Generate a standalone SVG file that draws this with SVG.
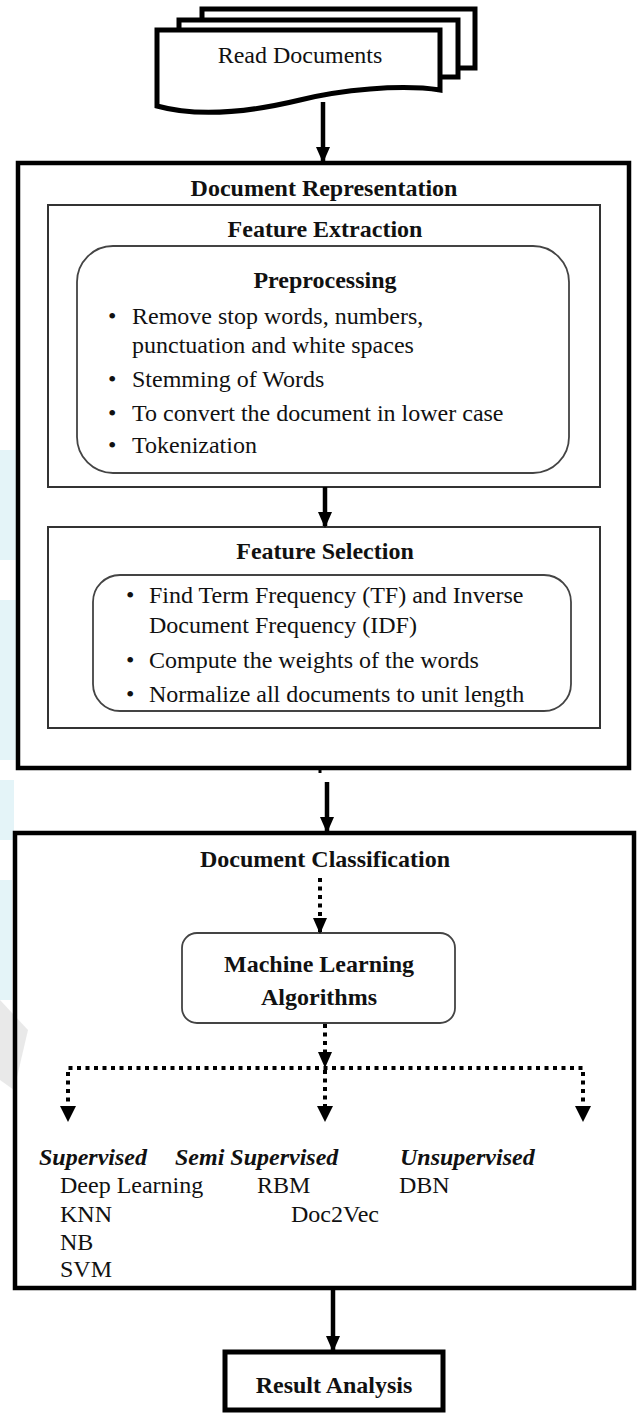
<svg xmlns="http://www.w3.org/2000/svg" width="639" height="1416" viewBox="0 0 639 1416">
  <style>
    text { font-family: "Liberation Serif", "Times New Roman", serif; font-size: 24px; fill: #111; }
    .h { font-weight: bold; text-anchor: middle; }
    .cat { font-weight: bold; font-style: italic; }
    .thick { fill: #fff; stroke: #000; stroke-width: 5; }
    .frame { fill: none; stroke: #000; stroke-width: 4.5; }
    .panel { fill: none; stroke: #333; stroke-width: 2; }
    .round { fill: #fff; stroke: #444; stroke-width: 1.8; }
    .solid { fill: none; stroke: #000; stroke-width: 4.5; }
    .dots { fill: none; stroke: #000; stroke-width: 4; stroke-dasharray: 4 4.5; }
    .tint { fill: #d9f0f5; opacity: 0.7; }
  </style>
  <defs>
    <marker id="head" viewBox="0 0 16 14" markerWidth="16" markerHeight="14" refX="14" refY="7" orient="auto" markerUnits="userSpaceOnUse">
      <path d="M0,0 L16,7 L0,14 z" fill="#000"/>
    </marker>
  </defs>
  <rect width="639" height="1416" fill="#fff"/>

  <!-- faint background tint along the left margin -->
  <g id="background">
    <rect class="tint" x="0" y="450" width="16" height="110"/>
    <rect class="tint" x="0" y="600" width="16" height="160"/>
    <rect class="tint" x="0" y="780" width="14" height="60"/>
    <rect class="tint" x="0" y="880" width="12" height="120"/>
    <path d="M0,1000 L28,1030 L14,1090 L0,1080 Z" fill="#e4e4e4" opacity="0.8"/>
  </g>

  <!-- stacked documents -->
  <g id="read-documents">
    <rect class="thick" x="202" y="9" width="273" height="59"/>
    <rect class="thick" x="179" y="20" width="279" height="57"/>
    <path class="thick" d="M157,30 H440 V90 C400,84 340,90 300,100 C250,112 200,118 157,106 Z"/>
    <text x="300" y="63" text-anchor="middle">Read Documents</text>
  </g>

  <!-- representation stage -->
  <g id="document-representation">
    <rect class="frame" x="18" y="163" width="611" height="605"/>
    <text class="h" x="324" y="196">Document Representation</text>
  </g>

  <g id="feature-extraction">
    <rect class="panel" x="48" y="205" width="552" height="282"/>
    <text class="h" x="325" y="237">Feature Extraction</text>
  </g>

  <g id="preprocessing">
    <rect class="round" x="77" y="246" width="492" height="227" rx="36" ry="36"/>
    <text class="h" x="325" y="288">Preprocessing</text>
    <text x="108" y="324">•</text><text x="132" y="324">Remove stop words, numbers,</text>
    <text x="132" y="353">punctuation and white spaces</text>
    <text x="108" y="387">•</text><text x="132" y="387">Stemming of Words</text>
    <text x="108" y="421">•</text><text x="132" y="421">To convert the document in lower case</text>
    <text x="108" y="453">•</text><text x="132" y="453">Tokenization</text>
  </g>

  <g id="feature-selection">
    <rect class="panel" x="48" y="527" width="552" height="201"/>
    <text class="h" x="325" y="559">Feature Selection</text>
  </g>

  <g id="tf-idf">
    <rect class="round" x="93" y="575" width="478" height="136" rx="27" ry="27"/>
    <text x="126" y="603">•</text><text x="149" y="603">Find Term Frequency (TF) and Inverse</text>
    <text x="149" y="633">Document Frequency (IDF)</text>
    <text x="126" y="668">•</text><text x="149" y="668">Compute the weights of the words</text>
    <text x="126" y="702">•</text><text x="149" y="702">Normalize all documents to unit length</text>
  </g>

  <!-- classification stage -->
  <g id="document-classification">
    <rect class="frame" x="15" y="833" width="619" height="455"/>
    <text class="h" x="325" y="867">Document Classification</text>
  </g>

  <g id="machine-learning">
    <rect class="round" x="182" y="933" width="273" height="90" rx="15" ry="15"/>
    <text class="h" x="319" y="972">Machine Learning</text>
    <text class="h" x="319" y="1005">Algorithms</text>
  </g>

  <g id="supervised">
    <text class="cat" x="39" y="1165">Supervised</text>
    <text x="60" y="1193">Deep Learning</text>
    <text x="60" y="1222">KNN</text>
    <text x="60" y="1250">NB</text>
    <text x="60" y="1277">SVM</text>
  </g>

  <g id="semi-supervised">
    <text class="cat" x="175" y="1165">Semi Supervised</text>
    <text x="257" y="1193">RBM</text>
    <text x="291" y="1222">Doc2Vec</text>
  </g>

  <g id="unsupervised">
    <text class="cat" x="400" y="1165">Unsupervised</text>
    <text x="399" y="1193">DBN</text>
  </g>

  <g id="result-analysis">
    <rect class="thick" x="225" y="1352" width="218" height="58"/>
    <text class="h" x="334" y="1393">Result Analysis</text>
  </g>

  <!-- connectors -->
  <g id="connectors">
    <line class="solid" x1="323" y1="102" x2="323" y2="161" marker-end="url(#head)"/>
    <line class="solid" x1="325" y1="487" x2="325" y2="526" marker-end="url(#head)"/>
    <line x1="320" y1="768" x2="320" y2="773" stroke="#000" stroke-width="3"/>
    <line class="solid" x1="327" y1="782" x2="327" y2="831" marker-end="url(#head)"/>
    <line class="solid" x1="333" y1="1290" x2="333" y2="1350" marker-end="url(#head)"/>
    <line class="dots" x1="320" y1="878" x2="320" y2="932" marker-end="url(#head)"/>
    <line class="dots" x1="325" y1="1024" x2="325" y2="1066" marker-end="url(#head)"/>
    <path class="dots" d="M68,1110 V1068 H583 V1110"/>
    <line class="dots" x1="325" y1="1070" x2="325" y2="1110"/>
    <path d="M60,1106 L76,1106 L68,1122 z M317,1106 L333,1106 L325,1122 z M575,1106 L591,1106 L583,1122 z" fill="#000"/>
  </g>
</svg>
